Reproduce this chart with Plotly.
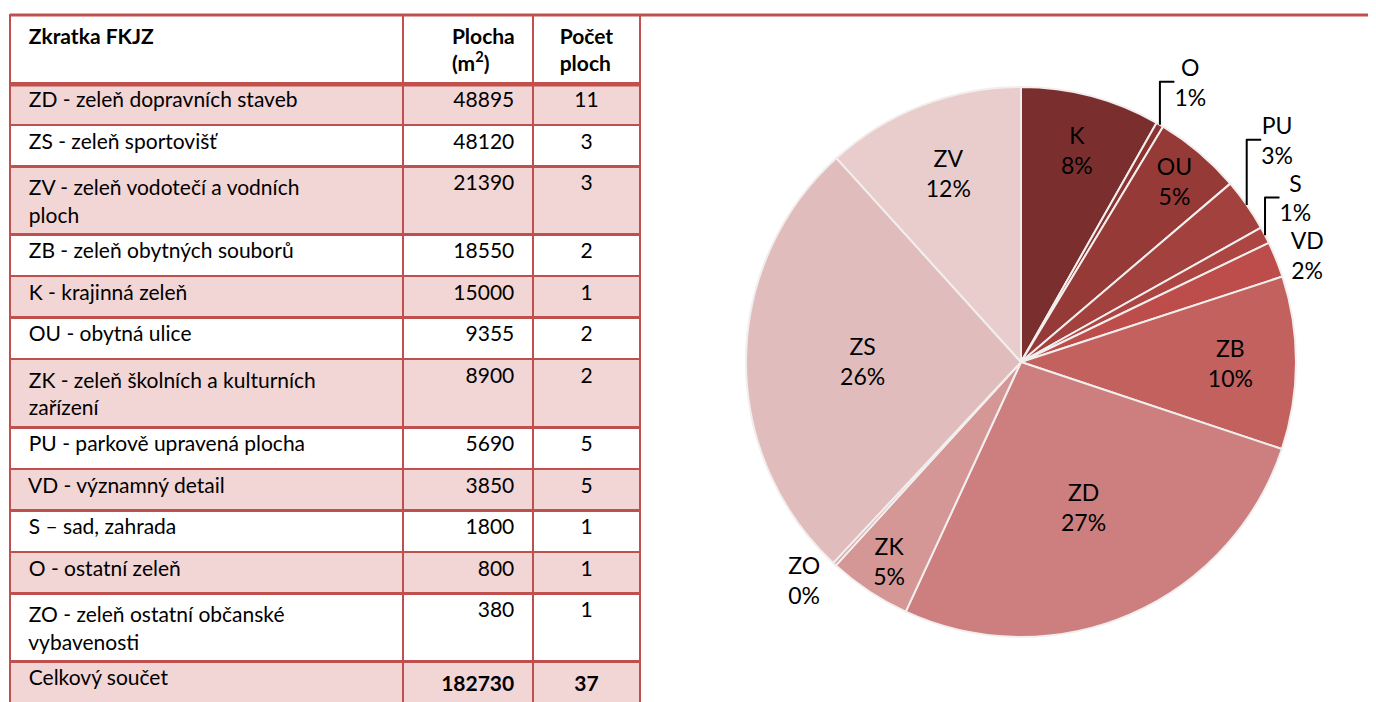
import plotly.graph_objects as go

# ---- table data ----
row_names = [
    "ZD - zeleň dopravních staveb",
    "ZS - zeleň sportovišť",
    "ZV - zeleň vodotečí a vodních<br>ploch",
    "ZB - zeleň obytných souborů",
    "K - krajinná zeleň",
    "OU - obytná ulice",
    "ZK - zeleň školních a kulturních<br>zařízení",
    "PU - parkově upravená plocha",
    "VD - významný detail",
    "S – sad, zahrada",
    "O - ostatní zeleň",
    "ZO - zeleň ostatní občanské<br>vybavenosti",
]
row_area = [48895, 48120, 21390, 18550, 15000, 9355, 8900, 5690, 3850, 1800, 800, 380]
row_count = [11, 3, 3, 2, 1, 2, 2, 5, 5, 1, 1, 1]
total_label = "Celkový součet"
total_area = 182730
total_count = 37
header_labels = ["<b>Zkratka FKJZ</b>", "<b>Plocha<br>(m<sup>2</sup>)</b>", "<b>Počet<br>ploch</b>"]

# ---- pie data ----
pie_labels = ["K", "O", "OU", "PU", "S", "VD", "ZB", "ZD", "ZK", "ZO", "ZS", "ZV"]
pie_values = [15000, 800, 9355, 5690, 1800, 3850, 18550, 48895, 8900, 380, 48120, 21390]
pie_pct_text = ["8%", "1%", "5%", "3%", "1%", "2%", "10%", "27%", "5%", "0%", "26%", "12%"]
pie_colors = ["#7b2e2e", "#8a3331", "#963a38", "#a3413e", "#ad4542", "#bd4d4a",
              "#c3615e", "#cc7f7e", "#d49796", "#d9a8a7", "#e0bdbc", "#e9cdcd"]
pie_textpos = ["inside", "outside", "inside", "outside", "outside", "outside",
               "inside", "inside", "inside", "outside", "inside", "inside"]

# page has an 8px body margin, so the figure is sized/offset to compensate
OFF = 8
W, H = 1376 - OFF, 702 - OFF
RED = "#c0504d"
PINK = "#f2d5d5"
FONT = "Lato"
PAD = "\u00a0\u00a0"


def px(x):
    return (x - OFF) / W


def py(y):
    return 1 - (y - OFF) / H


def lpad(s):
    return "<br>".join(PAD + part for part in s.split("<br>"))


def rpad(s):
    return "<br>".join(part + PAD for part in s.split("<br>"))


col1 = [lpad(s) for s in row_names + [total_label]]
col2 = [rpad(str(v)) for v in row_area] + [rpad(f"<b>{total_area}</b>")]
col3 = [str(v) for v in row_count] + [f"<b>{total_count}</b>"]
n = len(col1)
fills = [PINK if i % 2 == 0 else "white" for i in range(n)]
hdr = [lpad(header_labels[0]), rpad(header_labels[1]), header_labels[2]]

fig = go.Figure()

fig.add_trace(go.Table(
    domain=dict(x=[px(10), px(640)], y=[0, py(15)]),
    columnwidth=[393, 130, 107],
    header=dict(
        values=hdr,
        align=["left", "right", "center"],
        fill_color="white",
        line=dict(color=RED, width=2.5),
        font=dict(family=FONT, size=21, color="black"),
        height=68,
    ),
    cells=dict(
        values=[col1, col2, col3],
        align=["left", "right", "center"],
        fill_color=[fills, fills, fills],
        line=dict(color=RED, width=2.5),
        font=dict(family=FONT, size=21, color="black"),
        height=41.5,
    ),
))

fig.add_trace(go.Pie(
    labels=pie_labels,
    values=pie_values,
    text=pie_pct_text,
    texttemplate="%{label}<br>%{text}",
    textposition=pie_textpos,
    insidetextorientation="horizontal",
    sort=False,
    direction="clockwise",
    rotation=0,
    marker=dict(colors=pie_colors, line=dict(color="#f2eeee", width=2)),
    textfont=dict(family=FONT, size=23, color="black"),
    showlegend=False,
    domain=dict(x=[px(746), px(1296)], y=[py(637), py(87)]),
    hoverinfo="label+value+percent",
))

fig.update_layout(
    width=W, height=H,
    margin=dict(l=0, r=0, t=0, b=0),
    paper_bgcolor="white",
    plot_bgcolor="white",
    font=dict(family=FONT, color="black"),
    shapes=[
        dict(type="line", xref="paper", yref="paper",
             x0=px(10), x1=1, y0=py(15), y1=py(15),
             line=dict(color=RED, width=3)),
        dict(type="line", xref="paper", yref="paper",
             x0=px(10), x1=px(640), y0=py(84.5), y1=py(84.5),
             line=dict(color=RED, width=4)),
    ],
)

fig.write_html("out.html")
